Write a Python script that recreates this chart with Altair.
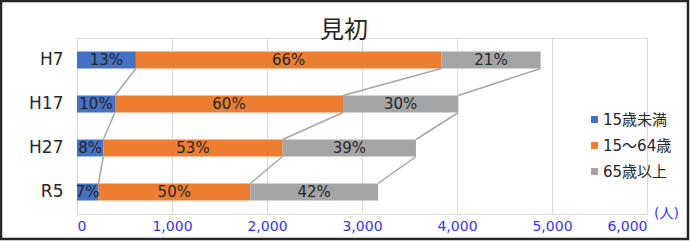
import altair as alt
import pandas as pd

title_text = "見初"
categories = ["H7", "H17", "H27", "R5"]
series = ["15歳未満", "15～64歳", "65歳以上"]
under15 = [620, 400, 277, 225]
age15_64 = [3215, 2400, 1888, 1598]
over65 = [1045, 1214, 1403, 1347]
colors = ["#4472c4", "#ed7d31", "#a5a5a5"]
x_ticks = [0, 1000, 2000, 3000, 4000, 5000, 6000]

FONT = "DejaVu Sans, Noto Sans CJK JP"
CJK = "Noto Sans CJK JP"
AXIS_BLUE = "#3535f0"
TXT = "#262626"

values = [under15, age15_64, over65]

rows = []
ends = {}
for ci, cat in enumerate(categories):
    total = sum(v[ci] for v in values)
    cum = 0
    for si, s in enumerate(series):
        v = values[si][ci]
        start = cum
        cum += v
        ends[(si, ci)] = cum
        rows.append({
            "cat": cat, "series": s, "order": si, "value": v,
            "start": start, "end": cum, "mid": (start + cum) / 2,
            "label": f"{round(v / total * 100)}%",
        })
bars_df = pd.DataFrame(rows)

conn = []
for si, s in enumerate(series):
    for ci in range(len(categories) - 1):
        conn.append({
            "series": s,
            "cat_a": categories[ci], "cat_b": categories[ci + 1],
            "xa": ends[(si, ci)], "xb": ends[(si, ci + 1)],
        })
conn_df = pd.DataFrame(conn)

x_scale = alt.Scale(domain=[0, 6000], nice=False, zero=True)
y_scale = alt.Scale(domain=categories, paddingInner=0.614, paddingOuter=0.307)
x_axis = alt.Axis(values=x_ticks, format=",d", title="(人)", titleX=589, titleY=-1,
                  titleAlign="center", titleBaseline="middle", titleFontSize=14,
                  titleFontWeight="normal", titleColor=AXIS_BLUE, titleFont=FONT,
                  labelColor=AXIS_BLUE, labelFontSize=14, labelFont=FONT,
                  labelPadding=5, ticks=False, domain=False, grid=True,
                  gridColor="#d9d9d9", gridWidth=1)
y_axis = alt.Axis(title=None, labelFontSize=17, labelFont=FONT, labelColor=TXT,
                  labelFontWeight="normal", labelPadding=14, ticks=False,
                  domain=False, grid=False)

border = alt.Chart(pd.DataFrame({"a": [0]})).mark_rect(
    filled=False, stroke=TXT, strokeWidth=2.5
).encode(
    x=alt.value(-76), x2=alt.value(611), y=alt.value(-37), y2=alt.value(201)
)

title = alt.Chart(pd.DataFrame({"t": [title_text]})).mark_text(
    font=CJK, fontSize=24, color=TXT, baseline="middle", align="center"
).encode(
    text="t:N", x=alt.value(267), y=alt.value(-7)
)

bars = alt.Chart(bars_df).mark_bar().encode(
    x=alt.X("start:Q", scale=x_scale, axis=x_axis),
    x2="end:Q",
    y=alt.Y("cat:N", scale=y_scale, axis=y_axis, sort=categories),
    color=alt.Color("series:N", scale=alt.Scale(domain=series, range=colors),
                    legend=alt.Legend(title=None, orient="none", legendX=510, legendY=74,
                                      symbolType="square", symbolSize=49,
                                      symbolStrokeWidth=0, labelFontSize=15,
                                      labelFont=FONT, labelColor=TXT, rowPadding=10,
                                      labelOffset=1, padding=0)),
)

connectors = alt.Chart(conn_df).mark_rule(
    color="#a6a6a6", strokeWidth=1.5, yOffset=8.5, y2Offset=-8.5
).encode(
    x=alt.X("xa:Q", scale=x_scale, axis=x_axis),
    x2="xb:Q",
    y=alt.Y("cat_a:N", scale=y_scale, axis=y_axis, sort=categories),
    y2="cat_b:N",
)

labels = alt.Chart(bars_df).mark_text(
    font=FONT, fontSize=15, color=TXT
).encode(
    x=alt.X("mid:Q", scale=x_scale, axis=x_axis),
    y=alt.Y("cat:N", scale=y_scale, axis=y_axis, sort=categories),
    text="label:N",
)

chart = alt.layer(border, bars, connectors, labels, title).properties(
    width=570, height=176,
    padding={"left": 77, "top": 38, "right": 43, "bottom": 27},
    autosize="none",
).configure_view(stroke=None).configure(background="white")

chart.save("out.html", embed_options={"renderer": "svg", "actions": False})
